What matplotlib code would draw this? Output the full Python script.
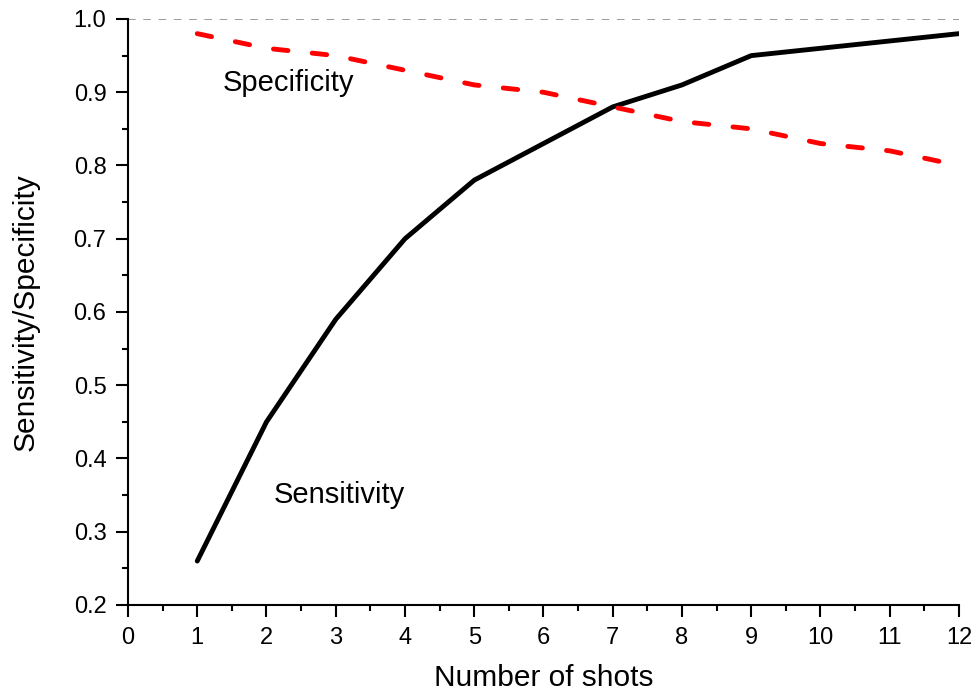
import matplotlib
matplotlib.use("Agg")
from matplotlib import pyplot as plt
from matplotlib.ticker import MultipleLocator

plt.rcParams['font.family'] = ['Liberation Sans', 'DejaVu Sans']

# data
shots = [1, 2, 3, 4, 5, 6, 7, 8, 9, 10, 11, 12]
sensitivity = [0.26, 0.45, 0.59, 0.70, 0.78, 0.83, 0.88, 0.91, 0.95, 0.96, 0.97, 0.98]
specificity = [0.98, 0.96, 0.95, 0.93, 0.91, 0.90, 0.88, 0.86, 0.85, 0.83, 0.82, 0.80]

fig = plt.figure(figsize=(9.73, 6.95), dpi=100)
ax = fig.add_axes([0.13155, 0.1295, 0.85406, 0.84317])

ax.axhline(1.0, color="gray", lw=1.1, ls=(0, (5, 5)), zorder=1)
ax.plot(shots, sensitivity, color="black", lw=3.5, solid_capstyle="round", zorder=3)
ax.plot(shots, specificity, color="red", lw=3.5, ls=(0, (3, 5)), dash_capstyle="round", zorder=3)

ax.text(2.31, 0.9126, "Specificity", fontsize=21, ha="center", va="center")
ax.text(3.05, 0.35, "Sensitivity", fontsize=21, ha="center", va="center")

ax.set_xlim(0, 12)
ax.set_ylim(0.2, 1.0)
ax.xaxis.set_major_locator(MultipleLocator(1))
ax.xaxis.set_minor_locator(MultipleLocator(0.5))
ax.yaxis.set_major_locator(MultipleLocator(0.1))
ax.yaxis.set_minor_locator(MultipleLocator(0.05))
ax.yaxis.set_major_formatter(plt.FormatStrFormatter("%.1f"))

for s in ["top", "right"]:
    ax.spines[s].set_visible(False)
for s in ["left", "bottom"]:
    ax.spines[s].set_linewidth(1.5)

ax.tick_params(which="major", direction="out", length=8.5, width=1.5, labelsize=17, pad=7)
ax.tick_params(which="minor", direction="out", length=4.5, width=1.5)

ax.set_xlabel("Number of shots", fontsize=21.5)
ax.set_ylabel("Sensitivity/Specificity", fontsize=21.5)
ax.xaxis.set_label_coords(0.5, -0.1)
ax.yaxis.set_label_coords(-0.106, 0.5)

fig.savefig("out.png", dpi=100)
